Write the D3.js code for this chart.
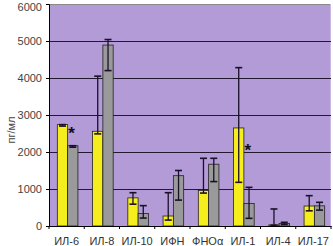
<!DOCTYPE html>
<html><head><meta charset="utf-8">
<script src="https://cdn.jsdelivr.net/npm/d3@7"></script>
<style>body{margin:0;background:#fff}svg{display:block}text{font-family:"Liberation Sans",Arial,sans-serif}</style>
</head><body><svg id="c" width="333" height="246"></svg>
<script>
const categories = ["ИЛ-6","ИЛ-8","ИЛ-10","ИФН","ФНОα","ИЛ-1","ИЛ-4","ИЛ-17"];
const yellowVals = [2740, 2560, 760, 270, 960, 2650, 30, 540];
const yellowLow  = [2700, 2490, 590, 160, 890, 1180, 20, 410];
const yellowHigh = [2740, 4050, 900, 900, 1830, 4280, 460, 820];
const greyVals   = [2170, 4890, 340, 1360, 1670, 610, 70, 545];
const greyLow    = [2130, 4200, 215, 700, 1200, 207, 40, 430];
const greyHigh   = [2170, 5040, 550, 1500, 1830, 1045, 100, 640];
const stars = [{cat:0, v:2640}, {cat:5, v:2180}];
const yTicks = [0,1000,2000,3000,4000,5000,6000];
const yLabel = "пг/мл";

const svg = d3.select("#c");
const L=49, R=331, T=4, B=226;
const x = d3.scaleBand().domain(categories).range([L,R]);
const y = d3.scaleLinear().domain([0,6000]).range([B,T]);
const bw = 10.3;

svg.append("rect").attr("x",L).attr("y",T).attr("width",R-L).attr("height",B-T).attr("fill","#b39bd7");
svg.append("line").attr("x1",L).attr("x2",R).attr("y1",T+0.5).attr("y2",T+0.5).attr("stroke","#8a8a8a");
svg.append("line").attr("x1",R-0.5).attr("x2",R-0.5).attr("y1",T).attr("y2",B).attr("stroke","#c8b8e8");

svg.selectAll(".grid").data(yTicks.filter(d=>d>0&&d<6000)).join("line")
  .attr("x1",L).attr("x2",R).attr("y1",d=>Math.round(y(d))+0.5).attr("y2",d=>Math.round(y(d))+0.5)
  .attr("stroke","#22182f").attr("stroke-width",1);

const gY = svg.append("g").attr("transform",`translate(${L},0)`)
  .call(d3.axisLeft(y).tickValues(yTicks).tickSize(3).tickPadding(4).tickFormat(d3.format("d")));
gY.select(".domain").attr("stroke","#000");
gY.selectAll("text").attr("font-size",11).attr("fill","#444");
gY.selectAll(".tick").filter(d=>d===6000).select("text").attr("dy","0.62em");
gY.selectAll(".tick line").attr("stroke","#000");

const series = [
  {vals:yellowVals, lo:yellowLow, hi:yellowHigh, fill:"#f5ee1c", off:-bw+1},
  {vals:greyVals, lo:greyLow, hi:greyHigh, fill:"#9a9a9a", off:1}
];
series.forEach(s=>{
  svg.append("g").selectAll("rect").data(categories).join("rect")
    .attr("x",(d)=>x(d)+x.bandwidth()/2+s.off)
    .attr("y",(d,i)=>y(s.vals[i]))
    .attr("width",bw).attr("height",(d,i)=>B-y(s.vals[i]))
    .attr("fill",s.fill).attr("stroke","#222").attr("stroke-width",0.8);
});
series.forEach(s=>{
  const g = svg.append("g").attr("stroke","#1a1028").attr("stroke-width",1.3);
  categories.forEach((c,i)=>{
    const cx = x(c)+x.bandwidth()/2+s.off+bw/2;
    g.append("line").attr("x1",cx).attr("x2",cx).attr("y1",y(s.lo[i])).attr("y2",y(s.hi[i]));
    [s.lo[i],s.hi[i]].forEach(v=>g.append("line").attr("x1",cx-3.5).attr("x2",cx+3.5).attr("y1",y(v)).attr("y2",y(v)).attr("stroke-width",1.6));
  });
});

svg.selectAll(".star").data(stars).join("text")
  .attr("x",d=>x(categories[d.cat])+x.bandwidth()/2+5).attr("y",d=>y(d.v)+11)
  .attr("text-anchor","middle").attr("font-size",17).attr("font-weight","bold").attr("fill","#111").text("*");

const gX = svg.append("g").attr("transform",`translate(0,${B})`)
  .call(d3.axisBottom(x).tickSize(0).tickPadding(11));
gX.select(".domain").attr("stroke","#000");
gX.selectAll("text").attr("font-size",11).attr("fill","#333");
svg.selectAll(".xt").data(d3.range(categories.length+1)).join("line")
  .attr("x1",i=>L+i*x.step()).attr("x2",i=>L+i*x.step()).attr("y1",B).attr("y2",B+3).attr("stroke","#000");

svg.append("text").attr("transform","translate(15,130) rotate(-90)").attr("text-anchor","middle")
  .attr("font-size",11).attr("fill","#444").text(yLabel);
</script></body></html>
